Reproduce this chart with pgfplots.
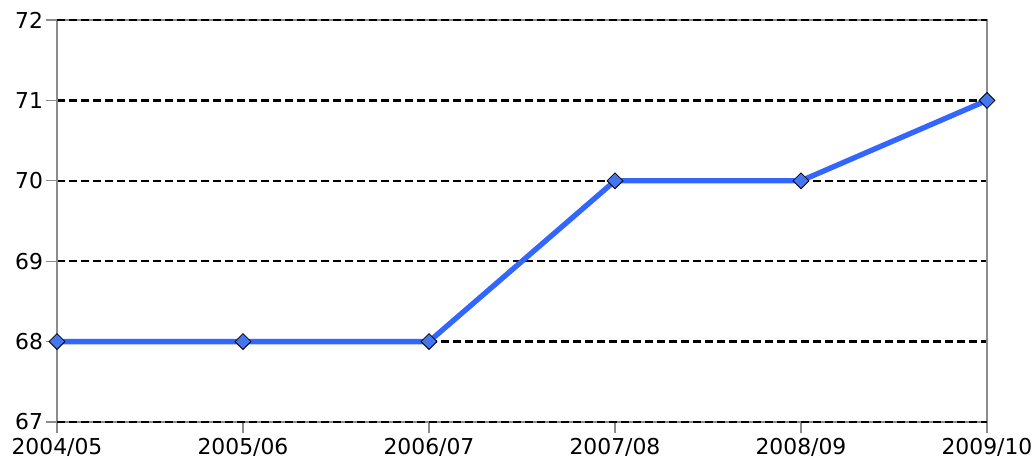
\documentclass[border=0pt]{standalone}
\usepackage{pgfplots}
\pgfplotsset{compat=1.18}
\usepackage{fontspec}
\setmainfont{DejaVu Sans}
\definecolor{lineblue}{HTML}{3366FF}
\definecolor{markblue}{HTML}{4477EE}
\definecolor{axgray}{HTML}{8C8C8C}
\begin{document}
\begin{tikzpicture}
\begin{axis}[
  scale only axis,
  width=697.5pt, height=301.5pt,
  xmin=0, xmax=5, ymin=67, ymax=72,
  xtick={0,1,2,3,4,5},
  xticklabels={2004/05,2005/06,2006/07,2007/08,2008/09,2009/10},
  ytick={67,68,69,70,71,72},
  tick align=outside,
  major tick length=8.5pt,
  tick style={axgray, line width=0.9pt},
  axis line style={axgray, line width=1.2pt},
  ymajorgrids,
  major grid style={black, line width=1.7pt, dash pattern=on 6pt off 3pt},
  tick label style={font=\fontsize{16.4}{20}\selectfont, text=black},
  yticklabel style={xshift=1.5pt},
  /pgf/number format/assume math mode=true,
  clip=false,
  xtick pos=bottom, ytick pos=left,
]
\addplot[lineblue, line width=4pt, mark=square*, mark size=4.2pt,
  mark options={rotate=45, fill=markblue, draw=black, line width=0.6pt}]
  coordinates {(0,68) (1,68) (2,68) (3,70) (4,70) (5,71)};
\draw[black, line width=1.7pt, dash pattern=on 6pt off 3pt] (rel axis cs:0,0) -- (rel axis cs:1,0);
\draw[black, line width=1.7pt, dash pattern=on 6pt off 3pt] (rel axis cs:0,1) -- (rel axis cs:1,1);
\coordinate (SW) at (rel axis cs:0,0);
\coordinate (NE) at (rel axis cs:1,1);
\end{axis}
\pgfresetboundingbox
\path ([xshift=-42.75pt,yshift=-33pt]SW) rectangle ([xshift=36.75pt,yshift=15pt]NE);
\end{tikzpicture}
\end{document}
